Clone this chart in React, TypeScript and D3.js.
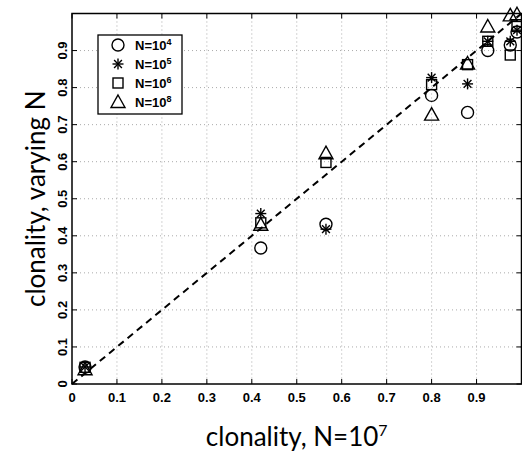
import React from "react";
import * as d3 from "d3";

const xTicks = [0, 0.1, 0.2, 0.3, 0.4, 0.5, 0.6, 0.7, 0.8, 0.9];
const yTicks = [0, 0.1, 0.2, 0.3, 0.4, 0.5, 0.6, 0.7, 0.8, 0.9];
const xRef = [0.029, 0.42, 0.565, 0.8, 0.88, 0.925, 0.975, 0.99];
const n4 = [0.046, 0.367, 0.431, 0.779, 0.733, 0.9, 0.915, 0.95];
const n5 = [0.046, 0.46, 0.418, 0.827, 0.81, 0.925, 0.925, 0.955];
const n6 = [0.045, 0.435, 0.598, 0.808, 0.862, 0.925, 0.888, 0.965];
const n8 = [0.04, 0.43, 0.623, 0.727, 0.865, 0.965, 0.995, 0.998];
const legendLabels = ["4", "5", "6", "8"];
const shapes = ["circle", "star", "square", "triangle"];

const W = 522, H = 460;
const L = 72, R = 521.5, T = 13.5, B = 384;

function Marker({ shape, x, y }: { shape: string; x: number; y: number }) {
  const common = { fill: "none", stroke: "#000", strokeWidth: 1.4 };
  if (shape === "circle") return <circle cx={x} cy={y} r={6} {...common} />;
  if (shape === "square") return <rect x={x - 5} y={y - 5} width={10} height={10} {...common} />;
  if (shape === "triangle") {
    const p = `${x},${y - 7} ${x + 7},${y + 5.5} ${x - 7},${y + 5.5}`;
    return <polygon points={p} {...common} />;
  }
  const a = 5.5, b = 3.9;
  return (
    <g stroke="#000" strokeWidth={1.4}>
      <line x1={x - a} y1={y} x2={x + a} y2={y} />
      <line x1={x} y1={y - a} x2={x} y2={y + a} />
      <line x1={x - b} y1={y - b} x2={x + b} y2={y + b} />
      <line x1={x - b} y1={y + b} x2={x + b} y2={y - b} />
    </g>
  );
}

export default function App() {
  const x = d3.scaleLinear().domain([0, 1]).range([L, R]);
  const y = d3.scaleLinear().domain([0, 1]).range([B, T]);
  const series = [n4, n5, n6, n8];
  const tickFont = { fontFamily: "Liberation Sans, Arial, sans-serif", fontWeight: 700, fontSize: 13 };
  return (
    <svg width={W} height={H} style={{ position: "absolute", left: 0, top: 0, background: "#fff" }}>
      <rect x={0} y={0} width={W} height={H} fill="#fff" />
      {xTicks.filter(t => t > 0).map(t => (
        <line key={"gx" + t} x1={x(t)} x2={x(t)} y1={T} y2={B} stroke="#aaa" strokeWidth={1} strokeDasharray="1,3" />
      ))}
      {yTicks.filter(t => t > 0).map(t => (
        <line key={"gy" + t} x1={L} x2={R} y1={y(t)} y2={y(t)} stroke="#aaa" strokeWidth={1} strokeDasharray="1,3" />
      ))}
      {xTicks.map(t => (
        <g key={"tx" + t}>
          <line x1={x(t)} x2={x(t)} y1={B} y2={B - 5} stroke="#000" />
          <line x1={x(t)} x2={x(t)} y1={T} y2={T + 5} stroke="#000" />
          <text x={x(t)} y={B + 18} textAnchor="middle" {...tickFont}>{t === 0 ? "0" : t.toFixed(1)}</text>
        </g>
      ))}
      {yTicks.map(t => (
        <g key={"ty" + t}>
          <line x1={L} x2={L + 5} y1={y(t)} y2={y(t)} stroke="#000" />
          <line x1={R} x2={R - 5} y1={y(t)} y2={y(t)} stroke="#000" />
          <text transform={`translate(${L - 5},${y(t)}) rotate(-90)`} textAnchor="middle" {...tickFont}>{t === 0 ? "0" : t.toFixed(1)}</text>
        </g>
      ))}
      <line x1={x(0)} y1={y(0)} x2={x(1)} y2={y(1)} stroke="#000" strokeWidth={2} strokeDasharray="7,5" />
      <rect x={L} y={T} width={R - L} height={B - T} fill="none" stroke="#000" strokeWidth={1.5} />
      {series.map((s, si) => s.map((v, i) => (
        <Marker key={si + "-" + i} shape={shapes[si]} x={x(xRef[i])} y={y(v)} />
      )))}
      <rect x={98} y={35} width={84} height={79} fill="#fff" stroke="#000" strokeWidth={1.3} />
      {legendLabels.map((l, i) => {
        const ly = 45 + i * 19;
        return (
          <g key={"lg" + l}>
            <Marker shape={shapes[i]} x={118} y={ly} />
            <text x={135} y={ly + 5} {...tickFont}>
              N=10<tspan dy={-5} fontSize={9}>{l}</tspan>
            </text>
          </g>
        );
      })}
      <text x={(L + R) / 2} y={446} textAnchor="middle" fontFamily="Lato, sans-serif" fontSize={26}>
        clonality, N=10<tspan dy={-10} fontSize={16}>7</tspan>
      </text>
      <text transform={`translate(45,${(T + B) / 2}) rotate(-90)`} textAnchor="middle" fontFamily="Lato, sans-serif" fontSize={26}>
        clonality, varying N
      </text>
    </svg>
  );
}
